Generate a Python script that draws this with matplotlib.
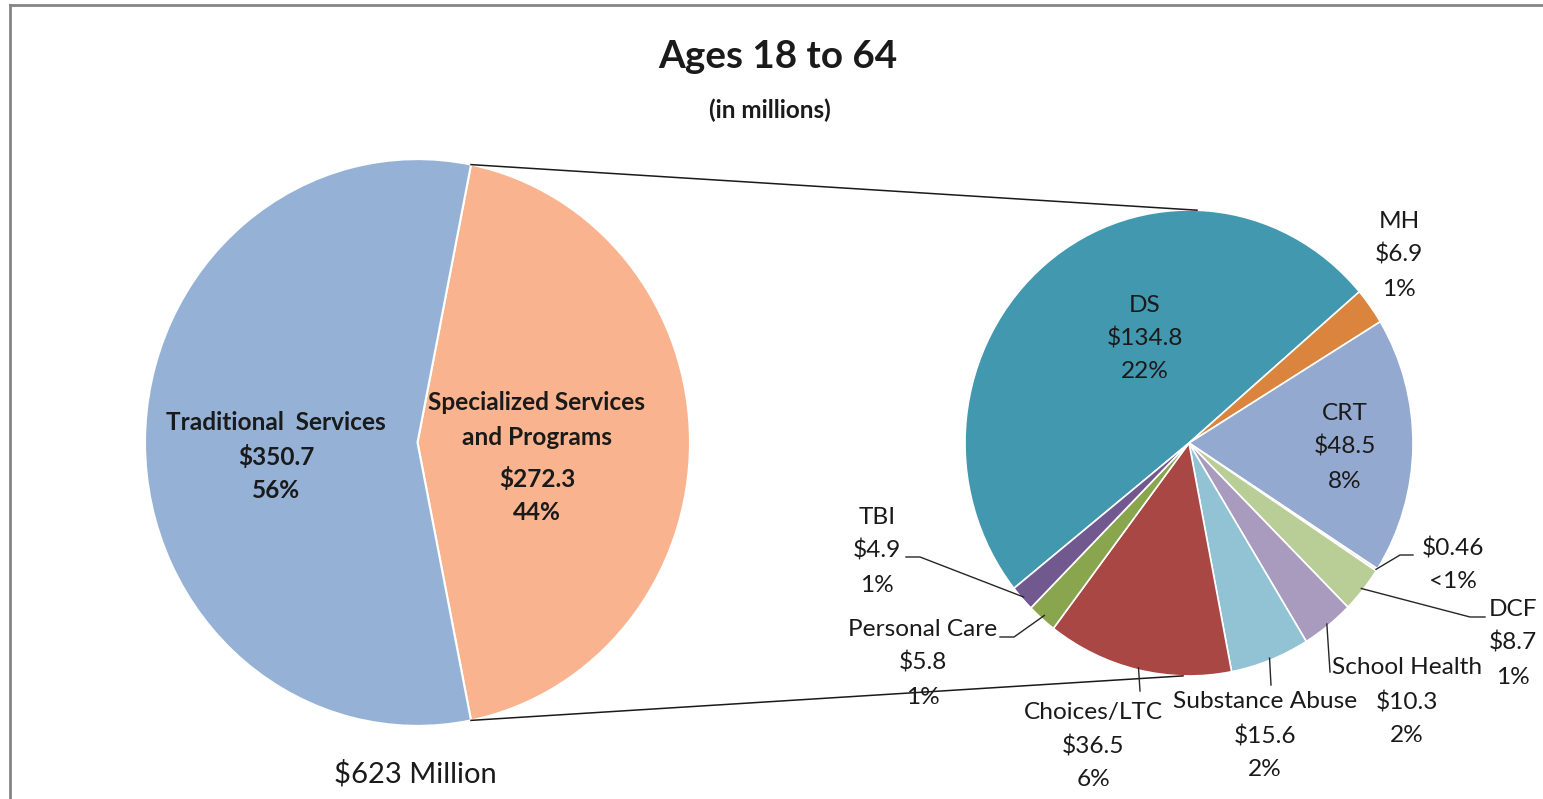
import numpy as np
import matplotlib
matplotlib.use("Agg")
import matplotlib.pyplot as plt

# ---------------- data ----------------
main_labels = ["Specialized Services", "and Programs", "Traditional  Services"]
main_values = [272.3, 350.7]
main_value_text = ["$272.3", "$350.7"]
main_pcts = ["44%", "56%"]
main_colors = ["#F9B48F", "#95B2D6"]
total_label = "$623 Million"

sub_labels = ["DS", "MH", "CRT", "", "DCF", "School Health", "Substance Abuse",
              "Choices/LTC", "Personal Care", "TBI"]
sub_values = [134.8, 6.9, 48.5, 0.46, 8.7, 10.3, 15.6, 36.5, 5.8, 4.9]
sub_value_text = ["$134.8", "$6.9", "$48.5", "$0.46", "$8.7", "$10.3", "$15.6",
                  "$36.5", "$5.8", "$4.9"]
sub_pcts = ["22%", "1%", "8%", "<1%", "1%", "2%", "2%", "6%", "1%", "1%"]
sub_colors = ["#4298AF", "#DB843D", "#93A9CF", "#E9E4DC", "#B9CD96", "#A99BBD",
              "#92C3D4", "#A94744", "#89A54E", "#71588F"]

title = "Ages 18 to 64"
subtitle = "(in millions)"

# ---------------- layout ----------------
W, H = 1543, 799
S = 1.04  # vertical stretch of the original picture
FONT = ["Lato", "DejaVu Sans"]
plt.rcParams['font.family'] = FONT

fig = plt.figure(figsize=(W / 100, H / 100), dpi=100)
ax = fig.add_axes([0, 0, 1, 1])


def P(px, py):
    """pixel coords -> data coords"""
    return px, (H - py) / S


# left pie
c1 = P(417.5, 442.5)
r1 = 272.5
frac = main_values[0] / sum(main_values)
start1 = -frac * 180.0
ax.pie(main_values, colors=main_colors, startangle=start1, counterclock=True,
       center=c1, radius=r1, frame=True,
       wedgeprops=dict(edgecolor="white", linewidth=1.5))

# right pie
c2 = P(1189, 443)
r2 = 224
start2 = 218.6
ax.pie(sub_values, colors=sub_colors, startangle=start2, counterclock=False,
       center=c2, radius=r2, frame=True,
       wedgeprops=dict(edgecolor="white", linewidth=1.2))

ax.set_aspect('auto')
ax.set_xlim(0, W)
ax.set_ylim(0, H / S)
ax.axis('off')

# connector lines between pies
th = np.deg2rad(frac * 180.0)
top1 = (c1[0] + r1 * np.cos(th), c1[1] + r1 * np.sin(th))
bot1 = (c1[0] + r1 * np.cos(-th), c1[1] + r1 * np.sin(-th))
top2 = (c2[0] + 8, c2[1] + r2 * np.sqrt(1 - (8 / r2) ** 2))
bot2 = (c2[0] - 6, c2[1] - r2 * np.sqrt(1 - (6 / r2) ** 2))
ax.plot([top1[0], top2[0]], [top1[1], top2[1]], color="#1a1a1a", lw=1.1, zorder=1)
ax.plot([bot1[0], bot2[0]], [bot1[1], bot2[1]], color="#1a1a1a", lw=1.1, zorder=1)

# wedge mid angles of sub pie
cum = np.cumsum([0] + sub_values)
tot = sum(sub_values)
mids = [start2 - 360.0 * (cum[i] + cum[i + 1]) / 2 / tot for i in range(len(sub_values))]


def edge_pt(i, extra=0.0):
    a = np.deg2rad(mids[i])
    return (c2[0] + (r2 + extra) * np.cos(a), c2[1] + (r2 + extra) * np.sin(a))


FS = 17.6
BFS = 17.6
LC = "#262626"


def txt(px, py, s, **kw):
    x, y = P(px, py)
    kw.setdefault("fontsize", FS)
    kw.setdefault("ha", "center")
    kw.setdefault("va", "center")
    kw.setdefault("color", "#1a1a1a")
    ax.text(x, y, s, **kw)


def lab3(px, pys, lines, **kw):
    for py, s in zip(pys, lines):
        if s:
            txt(px, py, s, **kw)


def leader(pts_px, start):
    xs = [start[0]] + [P(*p)[0] for p in pts_px]
    ys = [start[1]] + [P(*p)[1] for p in pts_px]
    ax.plot(xs, ys, color=LC, lw=1.0)


# title
txt(778, 56, title, fontsize=27.8, fontweight="bold")
txt(770, 110, subtitle, fontsize=17.5, fontweight="bold")

# left pie labels
lab3(276, [423, 457, 491], [main_labels[2], main_value_text[1], main_pcts[1]],
     fontweight="bold", fontsize=BFS)
lab3(537, [403, 437, 479, 512],
     [main_labels[0], main_labels[1], main_value_text[0], main_pcts[0]],
     fontweight="bold", fontsize=BFS)
txt(415, 774, total_label, fontsize=21)

# right pie labels
i = 0
lab3(1145, [305, 338, 372], [sub_labels[i], sub_value_text[i], sub_pcts[i]])
i = 1
lab3(1399, [221, 255, 289], [sub_labels[i], sub_value_text[i], sub_pcts[i]])
i = 2
lab3(1345, [413, 447, 481], [sub_labels[i], sub_value_text[i], sub_pcts[i]])
i = 3
lab3(1453, [549, 582], [sub_value_text[i], sub_pcts[i]])
leader([(1400, 555), (1413, 555)], edge_pt(i, -1))
i = 4
lab3(1513, [609, 643, 677], [sub_labels[i], sub_value_text[i], sub_pcts[i]])
leader([(1470, 617), (1485, 617)], edge_pt(i, -2))
i = 5
lab3(1407, [668, 702, 736], [sub_labels[i], sub_value_text[i], sub_pcts[i]])
leader([(1330, 672)], edge_pt(i, -2))
i = 6
lab3(1265, [702, 736, 770], [sub_labels[i], sub_value_text[i], sub_pcts[i]])
leader([(1271, 685)], edge_pt(i, -2))
i = 7
lab3(1093, [712, 746, 780], [sub_labels[i], sub_value_text[i], sub_pcts[i]])
leader([(1140, 691)], edge_pt(i, -2))
i = 8
lab3(923, [630, 663, 697], [sub_labels[i], sub_value_text[i], sub_pcts[i]])
leader([(1014, 637), (1000, 637)], edge_pt(i, -4))
i = 9
lab3(877, [517, 551, 585], [sub_labels[i], sub_value_text[i], sub_pcts[i]])
leader([(920, 557), (906, 557)], edge_pt(i, -2))

# border (top and left)
fig.add_artist(plt.Line2D([10 / W, 1.0], [1 - 5 / H, 1 - 5 / H],
                          transform=fig.transFigure, color="#858585", lw=2))
fig.add_artist(plt.Line2D([10 / W, 10 / W], [0, 1 - 5 / H],
                          transform=fig.transFigure, color="#858585", lw=2))

fig.savefig("out.png", dpi=100, facecolor="white")
